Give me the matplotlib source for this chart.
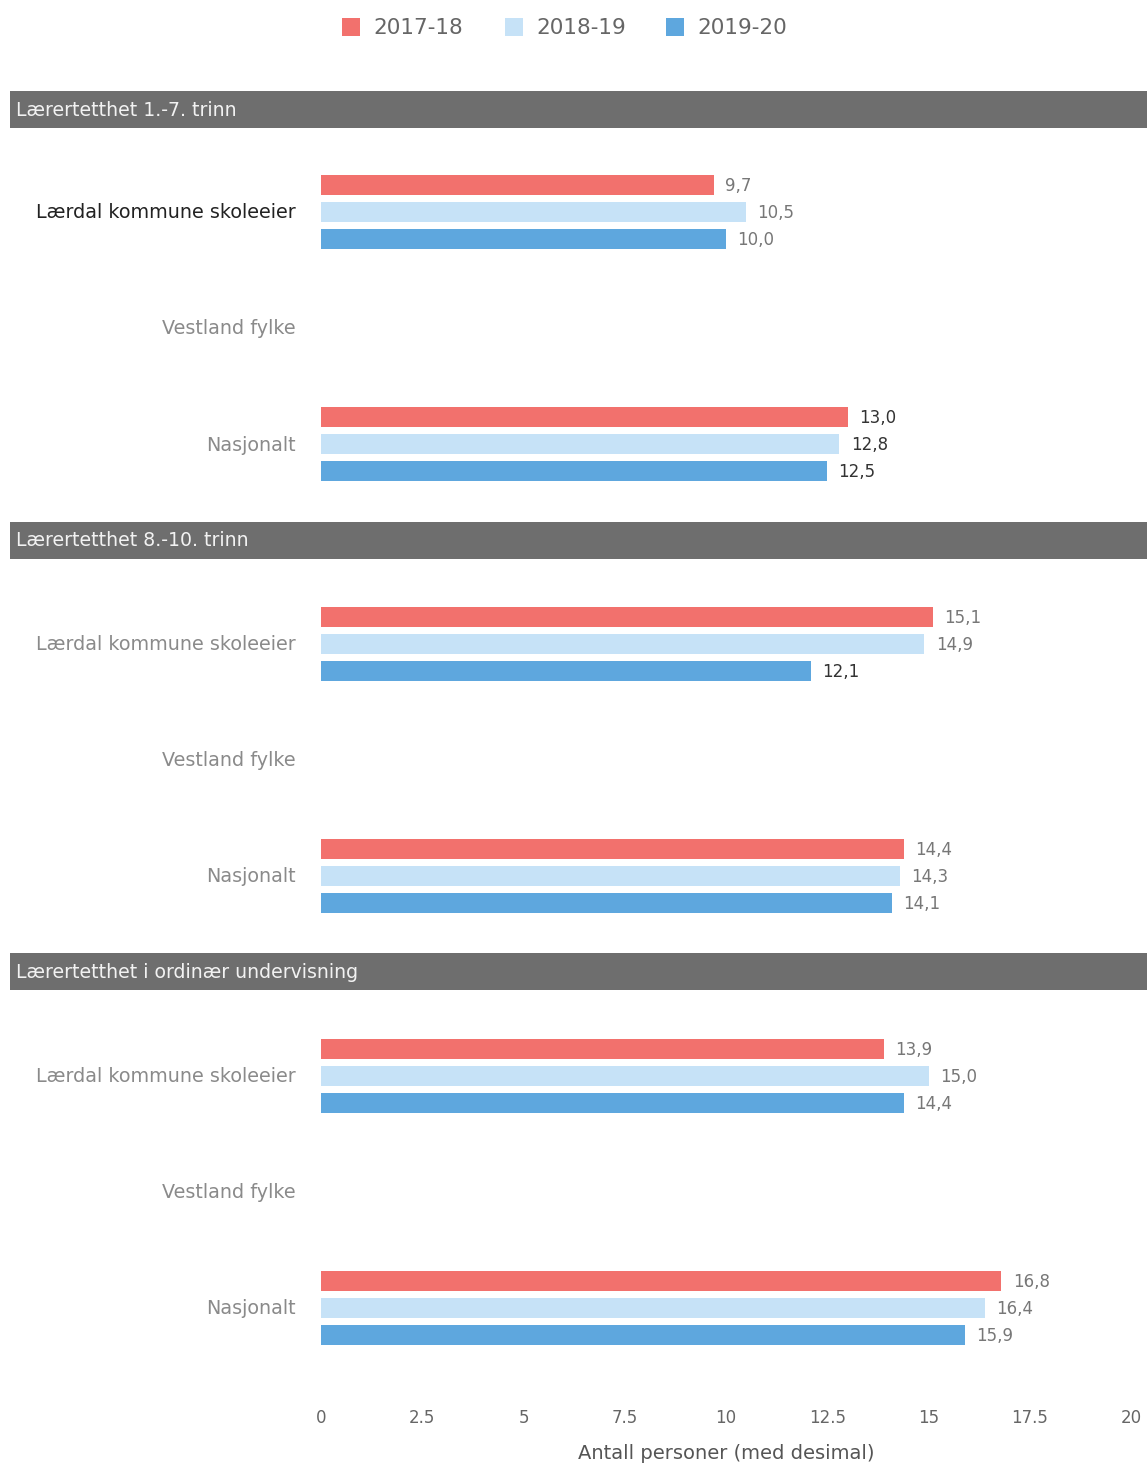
import numpy as np
import matplotlib
matplotlib.use("Agg")
import matplotlib.pyplot as plt
from matplotlib import patches

# data
panels = ["Lærertetthet 1.-7. trinn", "Lærertetthet 8.-10. trinn",
          "Lærertetthet i ordinær undervisning"]
categories = ["Lærdal kommune skoleeier", "Vestland fylke", "Nasjonalt"]
years = ["2017-18", "2018-19", "2019-20"]
v_2017_18 = [9.7, np.nan, 13.0, 15.1, np.nan, 14.4, 13.9, np.nan, 16.8]
v_2018_19 = [10.5, np.nan, 12.8, 14.9, np.nan, 14.3, 15.0, np.nan, 16.4]
v_2019_20 = [10.0, np.nan, 12.5, 12.1, np.nan, 14.1, 14.4, np.nan, 15.9]
series = [v_2017_18, v_2018_19, v_2019_20]
colors = ["#f2716d", "#c6e2f7", "#5ea7de"]
ticks = [0, 2.5, 5, 7.5, 10, 12.5, 15, 17.5, 20]
tick_labels = ["0", "2.5", "5", "7.5", "10", "12.5", "15", "17.5", "20"]

W, H = 1147, 1463
fig = plt.figure(figsize=(W / 100, H / 100), dpi=100)
fig.patch.set_facecolor("white")

# axes in pixel-like units vertically
ax_left, ax_right = 321, 1131
ax_bottom = 1395
ax = fig.add_axes([ax_left / W, (H - ax_bottom) / H, (ax_right - ax_left) / W, ax_bottom / H])
ax.set_xlim(0, 20)
ax.set_ylim(ax_bottom, 0)
for s in ax.spines.values():
    s.set_visible(False)

# layout (pixels)
first_cat = 212
cat_step = 116
panel_step = 432
bar_off = [-27, 0, 27]
bar_h = 20

ypos = []
for p in range(len(panels)):
    for c in range(len(categories)):
        ypos.append(first_cat + p * panel_step + c * cat_step)
ypos = np.array(ypos)

dark = {(2, 0), (2, 1), (2, 2), (3, 2)}
for k, vals in enumerate(series):
    y = ypos + bar_off[k]
    ax.barh(y, vals, height=bar_h, color=colors[k], edgecolor="none")
    for i, v in enumerate(vals):
        if np.isnan(v):
            continue
        col = "#333333" if (i, k) in dark else "#777777"
        ax.text(v + 0.28, y[i] + 1, f"{v:.1f}".replace(".", ","), va="center",
                ha="left", fontsize=12, color=col)

# category labels
ax.set_yticks([])
for i, y in enumerate(ypos):
    name = categories[i % len(categories)]
    col = "#222222" if i == 0 else "#8a8a8a"
    fig.text(296 / W, 1 - (y + 1) / H, name, ha="right", va="center",
             fontsize=13.8, color=col)

# panel headers
for p, title in enumerate(panels):
    top = 91 + p * 431
    rect = patches.Rectangle((10 / W, 1 - (top + 37) / H), (W - 10) / W, 37 / H,
                             transform=fig.transFigure, facecolor="#6e6e6e",
                             edgecolor="none")
    fig.add_artist(rect)
    fig.text(16 / W, 1 - (top + 19) / H, title, ha="left", va="center",
             fontsize=13.6, color="#f2f2f2")

# x axis
ax.set_xticks(ticks)
ax.set_xticklabels(tick_labels, fontsize=12, color="#666666")
ax.tick_params(axis="x", length=0, pad=10)
ax.set_xlabel("Antall personer (med desimal)", fontsize=14, color="#555555", labelpad=12)

# legend
leg_x = [342, 505, 666]
for k, yr in enumerate(years):
    sq = patches.Rectangle(((leg_x[k]) / W, 1 - 36 / H), 18 / W, 18 / H,
                           transform=fig.transFigure, facecolor=colors[k],
                           edgecolor="none")
    fig.add_artist(sq)
    fig.text((leg_x[k] + 31) / W, 1 - 28 / H, yr, ha="left", va="center",
             fontsize=15.5, color="#666666")

fig.savefig("out.png", dpi=100)
